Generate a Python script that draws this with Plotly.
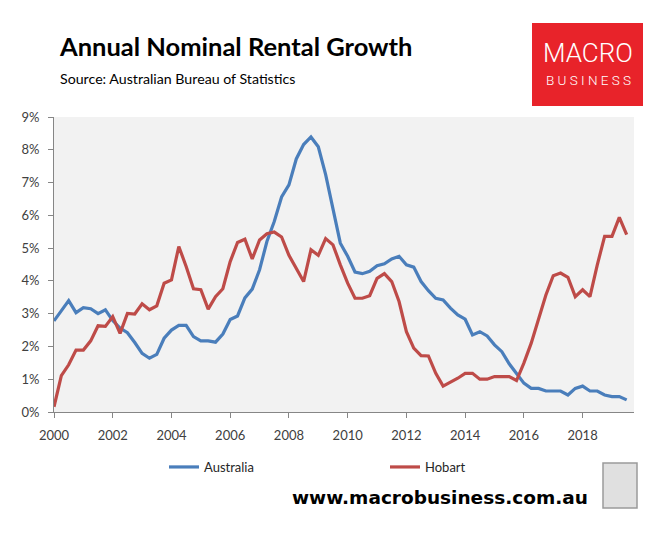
import plotly.graph_objects as go

start_year = 2000.0
australia = [2.78, 3.08, 3.40, 3.03, 3.18, 3.15, 3.00, 3.12,
             2.79, 2.56, 2.42, 2.12, 1.79, 1.64, 1.76, 2.25,
             2.50, 2.64, 2.64, 2.30, 2.17, 2.17, 2.13, 2.38,
             2.82, 2.93, 3.48, 3.75, 4.34, 5.20, 5.81, 6.56,
             6.93, 7.72, 8.16, 8.39, 8.09, 7.24, 6.22, 5.15,
             4.75, 4.27, 4.22, 4.29, 4.46, 4.52, 4.67, 4.75,
             4.49, 4.42, 3.98, 3.70, 3.47, 3.42, 3.17, 2.96,
             2.83, 2.35, 2.45, 2.32, 2.05, 1.84, 1.47, 1.18,
             0.88, 0.72, 0.72, 0.64, 0.64, 0.64, 0.52, 0.72,
             0.79, 0.64, 0.64, 0.52, 0.47, 0.47, 0.37]
hobart = [0.16, 1.11, 1.44, 1.89, 1.89, 2.17, 2.63, 2.61,
          2.91, 2.40, 3.01, 2.99, 3.30, 3.12, 3.24, 3.93,
          4.03, 5.05, 4.44, 3.76, 3.73, 3.14, 3.52, 3.76,
          4.59, 5.17, 5.27, 4.67, 5.25, 5.44, 5.49, 5.34,
          4.78, 4.39, 3.98, 4.95, 4.78, 5.29, 5.10, 4.49,
          3.93, 3.47, 3.47, 3.55, 4.08, 4.22, 3.98, 3.37,
          2.45, 1.95, 1.72, 1.71, 1.18, 0.79, 0.90, 1.03,
          1.18, 1.18, 1.00, 1.00, 1.08, 1.08, 1.08, 0.96,
          1.49, 2.10, 2.84, 3.57, 4.16, 4.24, 4.11, 3.52,
          3.73, 3.52, 4.49, 5.36, 5.36, 5.94, 5.41]
quarters = [start_year + 0.25 * i for i in range(len(australia))]
x_ticks = [2000, 2002, 2004, 2006, 2008, 2010, 2012, 2014, 2016, 2018]
y_ticks = [0, 1, 2, 3, 4, 5, 6, 7, 8, 9]

# page body has an 8px margin; figure sized to fit the window
OFF = 8
W, H = 660 - OFF, 538 - OFF
L, R, T, B = 54, 634, 117, 412          # plot area in page pixels
pw, ph = R - L, B - T

def px(x):
    return (x - L) / pw

def py(y):
    return (B - y) / ph

fig = go.Figure()
fig.add_trace(go.Scatter(x=quarters, y=australia, mode="lines", name="Australia",
                         line=dict(color="#4A7EBB", width=3.2)))
fig.add_trace(go.Scatter(x=quarters, y=hobart, mode="lines", name="Hobart",
                         line=dict(color="#BE4B48", width=3.2)))

tickfont = dict(family="Lato, Carlito, sans-serif", size=13, color="#404040")
fig.update_layout(
    width=W, height=H,
    margin=dict(l=L - OFF, r=W - (R - OFF), t=T - OFF, b=H - (B - OFF), autoexpand=False),
    paper_bgcolor="white", plot_bgcolor="#F2F2F2",
    showlegend=True,
    legend=dict(orientation="h", x=px(164), xanchor="left", y=py(467), yanchor="middle",
                entrywidth=176, entrywidthmode="pixels", itemwidth=30,
                font=dict(family="Lato, Carlito, sans-serif", size=13, color="#262626"),
                bgcolor="rgba(0,0,0,0)"),
    xaxis=dict(range=[2000, 2019.75], tickvals=x_ticks, ticktext=[str(v) for v in x_ticks],
               showgrid=False, zeroline=False, showline=True, linecolor="#868686", linewidth=1,
               ticks="outside", ticklen=5, tickcolor="#868686", tickfont=tickfont,
               ticklabelstandoff=6),
    yaxis=dict(range=[0, 9], tickvals=y_ticks, ticktext=[f"{v}%" for v in y_ticks],
               showgrid=False, zeroline=False, showline=True, linecolor="#868686", linewidth=1,
               ticks="outside", ticklen=5, tickcolor="#868686", tickfont=tickfont,
               ticklabelstandoff=6),
)

ann = []
ann.append(dict(text="<b>Annual Nominal Rental Growth</b>", x=px(57), y=py(46), xref="paper", yref="paper",
                xanchor="left", yanchor="middle", showarrow=False,
                font=dict(family="Lato, Carlito, sans-serif", size=25.5, color="black")))
ann.append(dict(text="Source: Australian Bureau of Statistics", x=px(58), y=py(78), xref="paper", yref="paper",
                xanchor="left", yanchor="middle", showarrow=False,
                font=dict(family="Lato, Carlito, sans-serif", size=14.2, color="black")))
ann.append(dict(text="<b>www.macrobusiness.com.au</b>", x=px(440), y=py(497), xref="paper", yref="paper",
                xanchor="center", yanchor="middle", showarrow=False,
                font=dict(family="DejaVu Sans, Verdana, sans-serif", size=18.5, color="black")))
ann.append(dict(text="MACRO", x=px(588), y=py(53), xref="paper", yref="paper",
                xanchor="center", yanchor="middle", showarrow=False,
                font=dict(family="Roboto, sans-serif", size=26, color="white", weight=300)))
ann.append(dict(text="B U S I N E S S", x=px(588), y=py(80), xref="paper", yref="paper",
                xanchor="center", yanchor="middle", showarrow=False,
                font=dict(family="Roboto, sans-serif", size=13.5, color="white", weight=300)))
fig.update_layout(annotations=ann)

fig.add_shape(type="rect", xref="paper", yref="paper", x0=px(532), x1=px(643), y0=py(23), y1=py(106),
              fillcolor="#E8232A", line=dict(width=0), layer="below")
fig.add_shape(type="rect", xref="paper", yref="paper", x0=px(603), x1=px(637), y0=py(463), y1=py(508),
              fillcolor="#E0E0E0", line=dict(color="#9A9A9A", width=1.5), layer="below")

fig.write_html("out.html")
